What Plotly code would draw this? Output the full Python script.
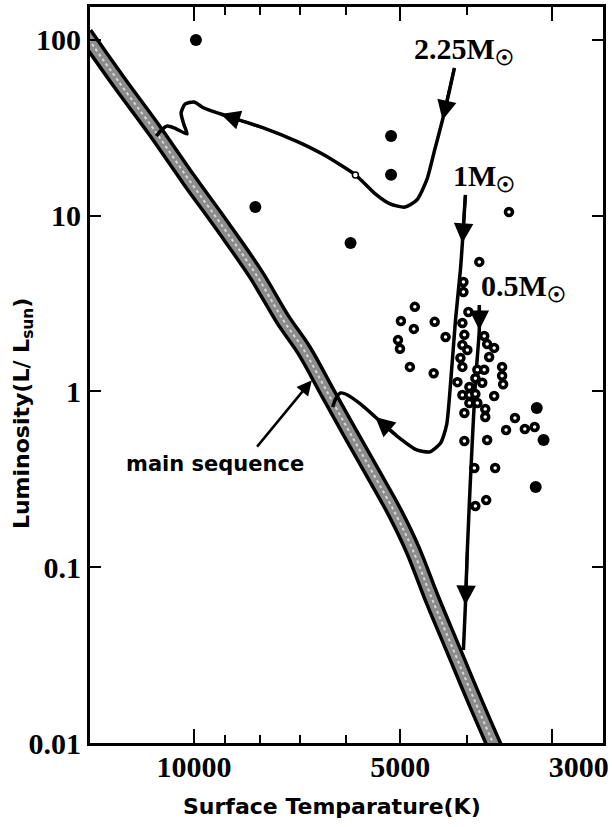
import numpy as np
import plotly.graph_objects as go

# ---- main sequence band (centre line) ----
ms_T = [14420, 12835, 11424, 10167, 9049, 8110, 7411, 6912, 6381, 5931,
        5495, 5089, 4794, 4500, 4183, 3899, 3624]
ms_L = [108.2, 56.9, 30.7, 15.97, 8.52, 4.60, 2.55, 1.72, 0.981, 0.588,
        0.348, 0.2035, 0.1253, 0.0668, 0.0338, 0.01757, 0.00912]

# ---- evolutionary tracks (in time order) ----
trk225_T = [4169, 4253, 4339, 4455, 4575, 4731, 4923, 5176, 5439, 5814, 6466,
            7052, 7920, 9141, 9672, 10000, 10304, 10442, 10339, 10235, 10688,
            10940, 11160, 11347]
trk225_L = [69.3, 48.7, 35.1, 23.7, 15.97, 12.29, 11.2, 11.67, 13.3, 17.06,
            22.2, 26.3, 31.6, 37.9, 41.0, 44.4, 43.2, 38.4, 32.8, 29.2, 31.6,
            32.4, 30.7, 28.4]
trk225_arrows = [(0, 2), (12, 13)]          # (tail index, head index)
trk225_mark = (5814, 17.06)

trk1_T = [4018, 4059, 4086, 4154, 4223, 4280, 4367, 4529, 4731, 5056, 5297,
          5439, 5718, 5970, 6111, 6215, 6277]
trk1_L = [13.13, 7.0, 4.91, 2.55, 1.12, 0.645, 0.509, 0.453, 0.465, 0.558,
          0.653, 0.716, 0.849, 0.955, 0.981, 0.906, 0.816]
trk1_arrows = [(0, 1), (9, 11)]

trk05_T = [3835, 3835, 3886, 3953, 3992, 4018, 4045]
trk05_L = [3.106, 2.238, 1.12, 0.3015, 0.1253, 0.061, 0.0338]
trk05_arrows = [(0, 1), (4, 5)]

# ---- observed stars ----
open_T = [3835, 4762, 4990, 4455, 4778, 3978, 4059, 4295, 5039, 5006, 4032,
          4059, 3992, 4086, 4059, 4842, 4470, 3772, 3735, 3648, 3710, 3552,
          3552, 3540, 3860, 3772, 3886, 3797, 4127, 3965, 4059, 3965, 3886,
          3965, 3860, 3648, 3759, 3759, 4032, 3402, 3505, 3291, 3184, 4032,
          3735, 3899, 3636, 3886, 3747, 3471, 4045, 4045]
open_L = [5.46, 3.03, 2.52, 2.49, 2.27, 2.83, 2.45, 2.04, 1.96, 1.75, 2.10,
          1.84, 1.72, 1.55, 1.38, 1.38, 1.27, 2.07, 1.86, 1.77, 1.57, 1.38,
          1.23, 1.10, 1.33, 1.33, 1.19, 1.12, 1.13, 1.06, 0.955, 0.955, 0.968,
          0.860, 0.860, 0.943, 0.795, 0.716, 0.755, 0.707, 0.604, 0.612, 0.628,
          0.523, 0.530, 0.367, 0.367, 0.223, 0.241, 10.5, 4.20, 3.68]
filled_T = [9934, 8137, 5158, 5158, 5910, 3162, 3090, 3173]
filled_L = [100, 11.2, 28.4, 17.1, 7.0, 0.806, 0.530, 0.286]

# ---- labels ----
mass_labels = ["2.25M<sub>☉</sub>", "1M<sub>☉</sub>", "0.5M<sub>☉</sub>"]
ms_label = "main sequence"
ms_arrow_head = (6730, 1.16)

x_ticks = [10000, 5000, 3000]
x_ticktext = ["10000", "5000", "\u00a0\u00a0\u00a0\u00a0\u00a0\u00a0\u00a03000"]
x_minor = [9000, 8000, 7000, 6000, 4000]
y_ticks = [0.01, 0.1, 1, 10, 100]
y_ticktext = ["0.01", "0.1", "1", "10", "100"]

T_range = (14180, 2531)
L_range = (0.01, 154)

SERIF = "Liberation Serif"
SANS = "DejaVu Sans"

fig = go.Figure()

# main sequence: black outline, grey hatched interior
fig.add_trace(go.Scatter(x=ms_T, y=ms_L, mode="lines",
                         line=dict(color="black", width=17, shape="spline"),
                         hoverinfo="skip"))
fig.add_trace(go.Scatter(x=ms_T, y=ms_L, mode="lines",
                         line=dict(color="#8c8c8c", width=10, shape="spline"),
                         hoverinfo="skip"))
fig.add_trace(go.Scatter(x=ms_T, y=ms_L, mode="lines",
                         line=dict(color="#d8d8d8", width=2, dash="3px,3px",
                                   shape="spline"),
                         hoverinfo="skip"))

for tT, tL in [(trk225_T, trk225_L), (trk1_T, trk1_L), (trk05_T, trk05_L)]:
    fig.add_trace(go.Scatter(x=tT, y=tL, mode="lines",
                             line=dict(color="black", width=3.5, shape="spline",
                                       smoothing=0.6),
                             hoverinfo="skip"))

fig.add_trace(go.Scatter(x=[trk225_mark[0]], y=[trk225_mark[1]], mode="markers",
                         marker=dict(size=6, color="white",
                                     line=dict(color="black", width=1.5))))

fig.add_trace(go.Scatter(x=open_T, y=open_L, mode="markers",
                         marker=dict(size=7, color="white",
                                     line=dict(color="black", width=3.5))))
fig.add_trace(go.Scatter(x=filled_T, y=filled_L, mode="markers",
                         marker=dict(size=12, color="black")))

lg = np.log10
ann = []
for tT, tL, arrows in [(trk225_T, trk225_L, trk225_arrows),
                       (trk1_T, trk1_L, trk1_arrows),
                       (trk05_T, trk05_L, trk05_arrows)]:
    for tail, head in arrows:
        ann.append(dict(x=lg(tT[head]), y=lg(tL[head]),
                        ax=lg(tT[tail]), ay=lg(tL[tail]),
                        axref="x", ayref="y", xref="x", yref="y",
                        text="", showarrow=True, arrowhead=2, arrowsize=1.3,
                        arrowwidth=3, arrowcolor="black", standoff=0))

# mass labels at the start of each track
for lab, tT, tL, dx in [(mass_labels[0], trk225_T, trk225_L, 10),
                        (mass_labels[1], trk1_T, trk1_L, 19),
                        (mass_labels[2], trk05_T, trk05_L, 44)]:
    ann.append(dict(x=lg(tT[0]), y=lg(tL[0]), xref="x", yref="y",
                    text=lab, showarrow=False, xanchor="center",
                    yanchor="bottom", xshift=dx, yshift=-4,
                    font=dict(family=SERIF, size=30, color="black",
                              weight="bold")))

ann.append(dict(x=lg(ms_arrow_head[0]), y=lg(ms_arrow_head[1]),
                xref="x", yref="y", ax=-56, ay=68, text="", showarrow=True,
                arrowhead=2, arrowsize=1.2, arrowwidth=2.5, arrowcolor="black",
                standoff=0))
ann.append(dict(x=lg(ms_arrow_head[0]), y=lg(ms_arrow_head[1]),
                xref="x", yref="y", text=ms_label, showarrow=False,
                xshift=-97, yshift=-84,
                font=dict(family=SANS, size=21, color="black", weight="bold")))

ann.append(dict(x=0.471, y=-0.0856, xref="paper", yref="paper",
                text="Surface Temparature(K)", showarrow=False,
                xanchor="center", yanchor="middle",
                font=dict(family=SANS, size=22, color="black", weight="bold")))
ann.append(dict(x=-0.131, y=0.448, xref="paper", yref="paper",
                text="Luminosity(L/ L<sub>sun</sub>)", showarrow=False,
                textangle=-90, xanchor="center", yanchor="middle",
                font=dict(family=SANS, size=22, color="black", weight="bold")))

fig.update_layout(
    width=612, height=827,
    margin=dict(l=90, r=4, t=7, b=84),
    paper_bgcolor="white", plot_bgcolor="white",
    showlegend=False,
    annotations=ann,
    xaxis=dict(type="log", range=[lg(T_range[0]), lg(T_range[1])],
               autorange=False, showgrid=False, zeroline=False,
               showline=True, linecolor="black", linewidth=3, mirror="ticks",
               ticks="inside", ticklen=14, tickwidth=2, tickcolor="black",
               tickvals=x_ticks, ticktext=x_ticktext,
               tickfont=dict(family=SERIF, size=30, color="black",
                             weight="bold"),
               ticklabelstandoff=-5,
               minor=dict(tickvals=x_minor, ticks="inside", ticklen=8,
                          tickwidth=2, tickcolor="black", showgrid=False)),
    yaxis=dict(type="log", range=[lg(L_range[0]), lg(L_range[1])],
               autorange=False, showgrid=False, zeroline=False,
               showline=True, linecolor="black", linewidth=3, mirror="ticks",
               ticks="inside", ticklen=11, tickwidth=2, tickcolor="black",
               tickvals=y_ticks, ticktext=y_ticktext,
               tickfont=dict(family=SERIF, size=30, color="black",
                             weight="bold")),
)

fig.write_html("out.html")
